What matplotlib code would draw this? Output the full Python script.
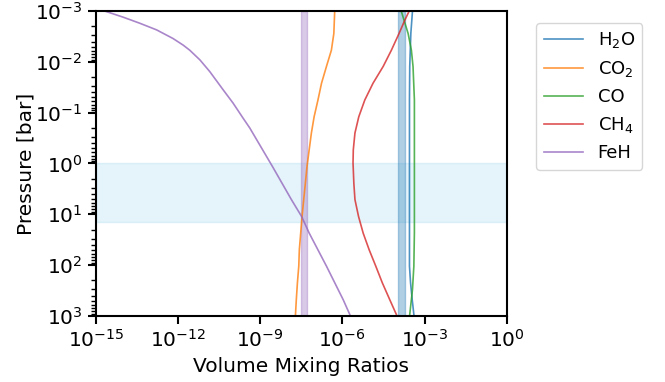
import matplotlib

matplotlib.use("Agg")
import matplotlib.pyplot as plt
import numpy as np
from matplotlib.ticker import NullLocator

# log10 pressure [bar] and log10 volume mixing ratio
h2o_logp = [-3.0, -2.56, -1.91, -1.25, 0.0, 1.0, 2.02, 2.35, 2.68, 2.97]
h2o_logx = [-3.44, -3.50, -3.54, -3.55, -3.55, -3.55, -3.55, -3.51, -3.45, -3.39]

co2_logp = [-2.99, -2.56, -2.23, -1.91, -1.58, -1.25, -0.92, -0.60, -0.27, 0.06,
            0.39, 0.71, 1.04, 1.37, 1.70, 2.02, 2.35, 2.68, 2.97]
co2_logx = [-6.28, -6.31, -6.40, -6.58, -6.76, -6.89, -7.03, -7.13, -7.21, -7.29,
            -7.35, -7.41, -7.47, -7.52, -7.57, -7.59, -7.64, -7.68, -7.71]

co_logp = [-3.0, -2.56, -2.23, -1.91, -1.25, 0.0, 1.36, 2.02, 2.48, 2.97]
co_logx = [-3.85, -3.60, -3.48, -3.42, -3.37, -3.37, -3.37, -3.39, -3.44, -3.54]

ch4_logp = [-2.99, -2.82, -2.56, -2.23, -1.91, -1.58, -1.25, -0.92, -0.60, -0.27,
            -0.01, 0.39, 0.71, 1.04, 1.37, 1.70, 2.02, 2.35, 2.68, 2.97]
ch4_logx = [-3.57, -3.72, -3.93, -4.21, -4.51, -4.88, -5.18, -5.40, -5.54, -5.60,
            -5.61, -5.58, -5.54, -5.41, -5.24, -5.02, -4.78, -4.54, -4.27, -4.03]

feh_logp = [-3.0, -2.88, -2.76, -2.63, -2.46, -2.33, -2.23, -2.04, -1.81, -1.45,
            -1.19, -0.89, -0.70, 0.06, 0.71, 1.04, 1.37, 2.02, 2.68, 2.97]
feh_logx = [-14.67, -14.0, -13.39, -12.78, -12.18, -11.81, -11.57, -11.20, -10.84, -10.35,
            -9.99, -9.62, -9.38, -8.55, -7.86, -7.49, -7.21, -6.58, -5.97, -5.73]

species = ["H$_2$O", "CO$_2$", "CO", "CH$_4$", "FeH"]
profiles = [
    (h2o_logx, h2o_logp),
    (co2_logx, co2_logp),
    (co_logx, co_logp),
    (ch4_logx, ch4_logp),
    (feh_logx, feh_logp),
]
colors = ["tab:blue", "tab:orange", "tab:green", "tab:red", "tab:purple"]

# retrieved abundance ranges and probed pressure range
h2o_range = [1.07e-4, 1.9e-4]
feh_range = [3.0e-8, 5.1e-8]
pressure_band = [1.0, 14.0]

plt.rcParams["font.family"] = "DejaVu Sans"
plt.rcParams["font.size"] = 14.5

fig = plt.figure(figsize=(6.65, 3.82), dpi=100)
ax = fig.add_axes([0.144, 0.173, 0.618, 0.798])

for (logx, logp), name, color in zip(profiles, species, colors):
    ax.plot(10 ** np.array(logx), 10 ** np.array(logp), color=color, lw=1.2, alpha=0.8, label=name)

ax.axhspan(*pressure_band, color="skyblue", alpha=0.22, lw=1)
ax.axvspan(*h2o_range, color="tab:blue", alpha=0.35, lw=1)
ax.axvspan(*feh_range, color="tab:purple", alpha=0.35, lw=1)

ax.set_xscale("log")
ax.set_yscale("log")
ax.set_xlim(1e-15, 1)
ax.set_ylim(1e3, 1e-3)
ax.xaxis.set_minor_locator(NullLocator())
ax.set_xlabel("Volume Mixing Ratios")
ax.set_ylabel("Pressure [bar]", labelpad=0)
for spine in ax.spines.values():
    spine.set_linewidth(1.5)
ax.tick_params(which="major", length=6, width=1.5)
ax.tick_params(which="minor", length=3.5, width=1.0)

ax.legend(loc="upper left", bbox_to_anchor=(1.05, 0.99), fontsize=13, handlelength=2.2)

fig.savefig("out.png", dpi=100)
